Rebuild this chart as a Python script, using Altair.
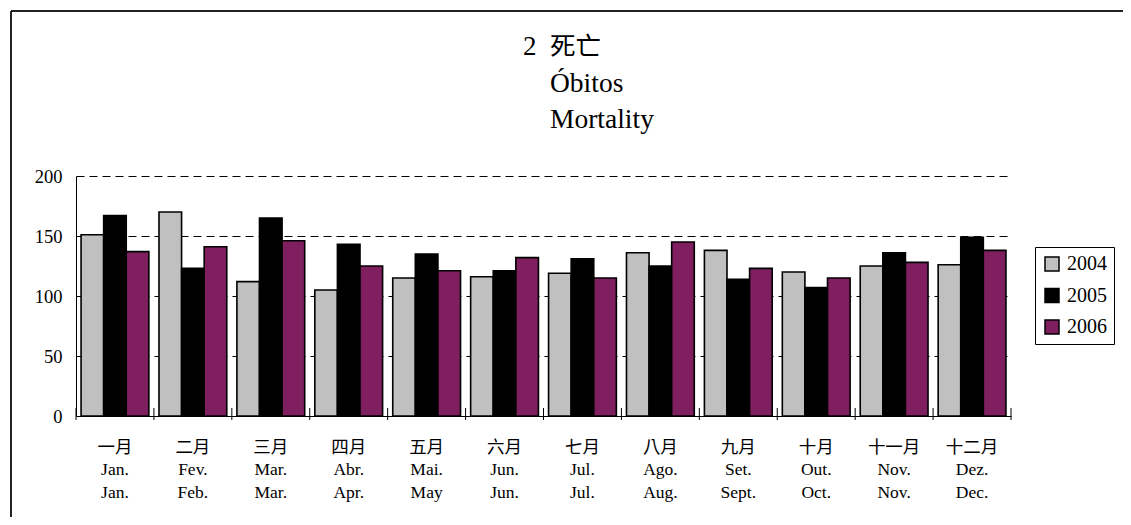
import altair as alt
import pandas as pd

months_zh = ["一月", "二月", "三月", "四月", "五月", "六月", "七月", "八月", "九月", "十月", "十一月", "十二月"]
months_pt = ["Jan.", "Fev.", "Mar.", "Abr.", "Mai.", "Jun.", "Jul.", "Ago.", "Set.", "Out.", "Nov.", "Dez."]
months_en = ["Jan.", "Feb.", "Mar.", "Apr.", "May", "Jun.", "Jul.", "Aug.", "Sept.", "Oct.", "Nov.", "Dec."]
years = ["2004", "2005", "2006"]
v2004 = [151, 170, 112, 105, 115, 116, 119, 136, 138, 120, 125, 126]
v2005 = [167, 123, 165, 143, 135, 121, 131, 125, 114, 107, 136, 149]
v2006 = [137, 141, 146, 125, 121, 132, 115, 145, 123, 115, 128, 138]
y_ticks = [0, 50, 100, 150, 200]
boundaries = list(range(13))
title_num = "2"
title_lines = ["死亡", "Óbitos", "Mortality"]

FONT = "'Liberation Serif', 'Noto Sans CJK TC', serif"

labels = [f"{z}|{p}|{e}" for z, p, e in zip(months_zh, months_pt, months_en)]
rows = []
for i, lab in enumerate(labels):
    for y, vals in zip(years, [v2004, v2005, v2006]):
        rows.append({"month": lab, "year": y, "value": vals[i]})
df = pd.DataFrame(rows)

W, H = 935, 240

bars = alt.Chart(df).mark_bar(stroke="black", strokeWidth=1.6).encode(
    x=alt.X("month:N", sort=labels,
            scale=alt.Scale(paddingInner=0.13, paddingOuter=0.065),
            axis=alt.Axis(title=None, labelExpr="split(datum.value, '|')",
                          labelAngle=0, ticks=False, labelPadding=22,
                          labelFont=FONT, labelFontSize=17.5, labelLineHeight=22.5,
                          labelColor="black", labelBaseline="top",
                          domainColor="black", domainWidth=1, grid=False)),
    xOffset=alt.XOffset("year:N", scale=alt.Scale(domain=years, paddingInner=0, paddingOuter=0)),
    y=alt.Y("value:Q", scale=alt.Scale(domain=[0, 200], nice=False),
            axis=alt.Axis(title=None, values=y_ticks, ticks=False, labelPadding=14,
                          labelFont=FONT, labelFontSize=18.5, labelColor="black",
                          domainColor="black", domainWidth=1,
                          grid=True, gridColor="black", gridDash=[8, 5], gridWidth=1)),
    color=alt.Color("year:N", scale=alt.Scale(domain=years, range=["#C0C0C0", "#000000", "#7F1F5F"]),
                    legend=alt.Legend(title=None, orient="none", legendX=959, legendY=71,
                                      padding=7, strokeColor="black", fillColor="white",
                                      symbolType="square", symbolSize=196,
                                      symbolStrokeColor="black", symbolStrokeWidth=1.5,
                                      labelFont=FONT, labelFontSize=20, labelColor="black",
                                      rowPadding=11.5, labelOffset=5)),
)

ticks = alt.Chart(pd.DataFrame({"b": boundaries})).mark_rule(color="black", strokeWidth=1).encode(
    x=alt.X("b:Q", scale=alt.Scale(domain=[0, 12], nice=False), axis=None),
    y=alt.value(232), y2=alt.value(244),
)

t_num = alt.Chart(pd.DataFrame({"t": [title_num]})).mark_text(
    font=FONT, fontSize=27, align="left", baseline="alphabetic", color="black"
).encode(text="t:N", x=alt.value(447), y=alt.value(-121))

t_lines = [
    alt.Chart(pd.DataFrame({"t": [line]})).mark_text(
        font=FONT, fontSize=fs, align="left", baseline="alphabetic", color="black"
    ).encode(text="t:N", x=alt.value(474), y=alt.value(yy))
    for line, yy, fs in zip(title_lines, [-121, -84, -48], [25.5, 27.5, 27.5])
]

frame_top = alt.Chart(pd.DataFrame({"a": [0]})).mark_rule(
    color="#222222", strokeWidth=2, clip=False
).encode(x=alt.value(-65), x2=alt.value(1060), y=alt.value(-165))

frame_left = alt.Chart(pd.DataFrame({"a": [0]})).mark_rule(
    color="#222222", strokeWidth=2, clip=False
).encode(x=alt.value(-65), y=alt.value(-165), y2=alt.value(345))

chart = alt.layer(frame_top, frame_left, bars, ticks, t_num, *t_lines).resolve_scale(x="independent").properties(
    width=W, height=H,
    autosize=alt.AutoSizeParams(type="none"),
    padding={"left": 68, "top": 168, "right": 112, "bottom": 101},
).configure_view(stroke=None)

chart.save("out.html", embed_options={"renderer": "svg", "actions": False})
